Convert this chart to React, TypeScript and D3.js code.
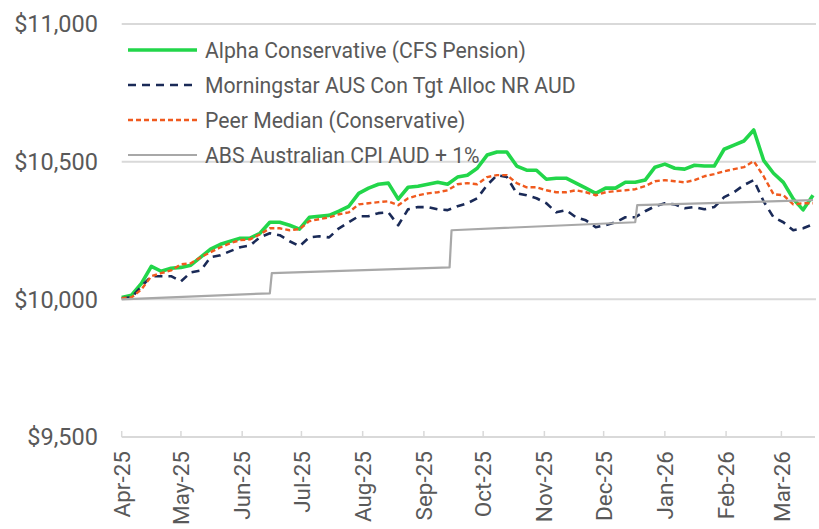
import React from "react";
import * as d3 from "d3";

const layout = {
  width: 819,
  height: 529,
  left: 121.7,
  right: 813,
  top: 24,
  bottom: 437
};

// every 5 days from 1 Apr 2025
const dates = [
  "2025-04-01", "2025-04-06", "2025-04-11", "2025-04-16", "2025-04-21", "2025-04-26",
  "2025-05-01", "2025-05-06", "2025-05-11", "2025-05-16", "2025-05-21", "2025-05-26", "2025-05-31",
  "2025-06-05", "2025-06-10", "2025-06-15", "2025-06-20", "2025-06-25", "2025-06-30",
  "2025-07-05", "2025-07-10", "2025-07-15", "2025-07-20", "2025-07-25", "2025-07-30",
  "2025-08-04", "2025-08-09", "2025-08-14", "2025-08-19", "2025-08-24", "2025-08-29",
  "2025-09-03", "2025-09-08", "2025-09-13", "2025-09-18", "2025-09-23", "2025-09-28",
  "2025-10-03", "2025-10-08", "2025-10-13", "2025-10-18", "2025-10-23", "2025-10-28",
  "2025-11-02", "2025-11-07", "2025-11-12", "2025-11-17", "2025-11-22", "2025-11-27",
  "2025-12-02", "2025-12-07", "2025-12-12", "2025-12-17", "2025-12-22", "2025-12-27",
  "2026-01-01", "2026-01-06", "2026-01-11", "2026-01-16", "2026-01-21", "2026-01-26", "2026-01-31",
  "2026-02-05", "2026-02-10", "2026-02-15", "2026-02-20", "2026-02-25",
  "2026-03-02", "2026-03-07", "2026-03-12", "2026-03-17"
];

const alpha = [
  10007, 10015, 10058, 10120, 10102, 10113, 10116, 10124, 10153, 10182, 10200, 10211, 10222,
  10222, 10240, 10280, 10280, 10269, 10255, 10298, 10302, 10305, 10320, 10338, 10385,
  10404, 10418, 10422, 10364, 10407, 10411, 10418, 10425, 10418, 10444, 10451, 10476,
  10524, 10535, 10535, 10484, 10469, 10469, 10436, 10440, 10440, 10422, 10404, 10385,
  10404, 10404, 10425, 10425, 10433, 10480, 10491, 10476, 10473, 10487, 10484, 10484, 10545,
  10560, 10575, 10615, 10505, 10458, 10425, 10365, 10325, 10378
];

const morningstar = [
  10004, 10007, 10047, 10084, 10084, 10084, 10065, 10098, 10105, 10153, 10160, 10175, 10189,
  10196, 10225, 10240, 10233, 10211, 10193, 10225, 10229, 10225, 10258, 10280, 10302,
  10302, 10313, 10316, 10269, 10327, 10335, 10335, 10327, 10324, 10338, 10349, 10367,
  10415, 10451, 10444, 10385, 10378, 10367, 10349, 10316, 10324, 10298, 10287, 10262,
  10269, 10280, 10298, 10298, 10320, 10338, 10349, 10345, 10331, 10335, 10327, 10335, 10371,
  10389, 10415, 10433, 10356, 10298, 10280, 10251, 10258, 10273
];

const peerMedian = [
  10004, 10007, 10036, 10084, 10095, 10105, 10127, 10131, 10153, 10171, 10189, 10204, 10215,
  10218, 10236, 10258, 10258, 10251, 10255, 10284, 10291, 10298, 10309, 10316, 10345,
  10349, 10353, 10356, 10342, 10367, 10378, 10385, 10389, 10396, 10418, 10422, 10418,
  10444, 10451, 10451, 10422, 10407, 10407, 10396, 10389, 10389, 10396, 10389, 10378,
  10389, 10393, 10396, 10400, 10411, 10429, 10433, 10429, 10425, 10433, 10447, 10455, 10465,
  10473, 10480, 10502, 10447, 10382, 10378, 10345, 10349, 10349
];

// quarterly CPI steps
const cpiDates = [
  "2025-04-01", "2025-06-15", "2025-06-16", "2025-09-14", "2025-09-15",
  "2025-12-17", "2025-12-18", "2026-03-17"
];
const cpiValues = [10000, 10022, 10095, 10116, 10251, 10280, 10342, 10360];

const yTicks = [9500, 10000, 10500, 11000];
const monthTicks = [
  "2025-04-01", "2025-05-01", "2025-06-01", "2025-07-01", "2025-08-01", "2025-09-01",
  "2025-10-01", "2025-11-01", "2025-12-01", "2026-01-01", "2026-02-01", "2026-03-01"
];

const seriesNames = [
  "Alpha Conservative (CFS Pension)",
  "Morningstar AUS Con Tgt Alloc NR AUD",
  "Peer Median (Conservative)",
  "ABS Australian CPI AUD + 1%"
];

const styles = [
  { color: "#22d64a", width: 3.6, dash: null },
  { color: "#1a2a57", width: 2.6, dash: "8,6" },
  { color: "#f05a1e", width: 2.4, dash: "5,3" },
  { color: "#a8a8a8", width: 2.2, dash: null }
];

const parse = d3.timeParse("%Y-%m-%d");
const fmtMonth = d3.timeFormat("%b-%y");
const fmtMoney = d3.format("$,");

const App = () => {
  const xScale = d3
    .scaleTime()
    .domain([parse("2025-04-01"), parse("2026-03-17")])
    .range([layout.left, layout.right]);
  const yScale = d3.scaleLinear().domain([9500, 11000]).range([layout.bottom, layout.top]);

  const lineGenerator = d3
    .line()
    .x(d => xScale(d[0]))
    .y(d => yScale(d[1]));

  const series = [
    dates.map((d, i) => [parse(d), alpha[i]]),
    dates.map((d, i) => [parse(d), morningstar[i]]),
    dates.map((d, i) => [parse(d), peerMedian[i]]),
    cpiDates.map((d, i) => [parse(d), cpiValues[i]])
  ];

  const font = "Roboto, 'Noto Sans', sans-serif";
  const textColor = "#595959";

  return (
    <div style={{ position: "absolute", left: 0, top: 0 }}>
      <svg width={layout.width} height={layout.height} style={{ display: "block", background: "#fff" }}>
        {/* gridlines */}
        {yTicks.slice(1).map(t => (
          <line
            key={t}
            x1={layout.left}
            x2={816}
            y1={yScale(t)}
            y2={yScale(t)}
            stroke="#d9d9d9"
            strokeWidth={2}
          />
        ))}
        {/* x axis */}
        <line x1={layout.left} x2={815} y1={layout.bottom} y2={layout.bottom} stroke="#d9d9d9" strokeWidth={2} />
        {monthTicks.map(m => (
          <line
            key={m}
            x1={xScale(parse(m))}
            x2={xScale(parse(m))}
            y1={layout.bottom}
            y2={layout.bottom - 6}
            stroke="#d9d9d9"
            strokeWidth={1.5}
          />
        ))}
        {yTicks.map(t => (
          <text
            key={t}
            x={98}
            y={yScale(t)}
            dy="0.36em"
            textAnchor="end"
            fontFamily={font}
            fontSize={23.5}
            fill={textColor}
          >
            {fmtMoney(t)}
          </text>
        ))}
        {monthTicks.map(m => (
          <text
            key={m}
            transform={`translate(${xScale(parse(m))},${451}) rotate(-90)`}
            dy="0.36em"
            textAnchor="end"
            fontFamily={font}
            fontSize={22.5}
            fill={textColor}
          >
            {fmtMonth(parse(m))}
          </text>
        ))}
        {/* series */}
        {series.map((s, i) => (
          <path
            key={i}
            d={lineGenerator(s)}
            fill="none"
            stroke={styles[i].color}
            strokeWidth={styles[i].width}
            strokeDasharray={styles[i].dash || undefined}
            strokeLinejoin="round"
          />
        ))}
        {/* legend */}
        {seriesNames.map((name, i) => (
          <g key={name} transform={`translate(128,${50 + i * 35})`}>
            <line
              x1={0}
              x2={69}
              y1={0}
              y2={0}
              stroke={styles[i].color}
              strokeWidth={styles[i].width}
              strokeDasharray={styles[i].dash || undefined}
            />
            <text x={77} y={0} dy="0.36em" fontFamily={font} fontSize={21.2} fill={textColor}>
              {name}
            </text>
          </g>
        ))}
      </svg>
    </div>
  );
};

export default App;
